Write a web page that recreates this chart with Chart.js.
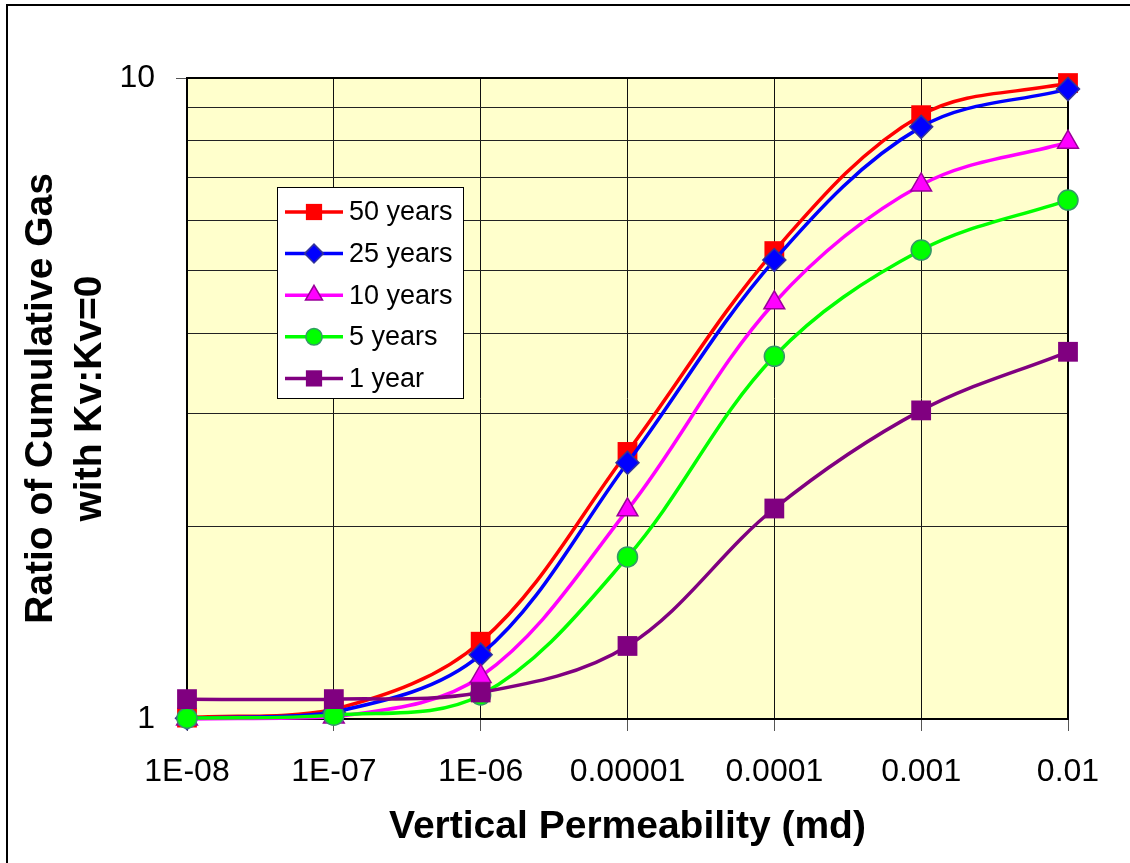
<!DOCTYPE html>
<html>
<head>
<meta charset="utf-8">
<script src="https://cdn.jsdelivr.net/npm/chart.js@4.4.0/dist/chart.umd.min.js"></script>
<style>
    html, body { margin: 0; padding: 0; background: #fff; overflow: hidden; }
    #wrap { position: relative; width: 1130px; height: 863px; }
    #frame { position: absolute; left: 6px; top: 4px; width: 1200px; height: 1000px;
             border-left: 2px solid #000; border-top: 2px solid #000; pointer-events: none; }
</style>
</head>
<body>
<div id="wrap">
    <canvas id="gasChart" width="1130" height="863"></canvas>
    <div id="frame"></div>
</div>
<script>
// vertical permeability (md) and the tick labels shown under the axis
const permeability = [1e-8, 1e-7, 1e-6, 1e-5, 1e-4, 1e-3, 1e-2];
const permLabels = ['1E-08', '1E-07', '1E-06', '0.00001', '0.0001', '0.001', '0.01'];
const ratioTicks = [1, 2, 3, 4, 5, 6, 7, 8, 9, 10];

// ratio of cumulative gas with Kv : Kv=0
const years50 = [1.005, 1.035, 1.32, 2.61, 5.37, 8.75, 9.82];
const years25 = [1.003, 1.025, 1.26, 2.51, 5.20, 8.39, 9.61];
const years10 = [1.0, 1.007, 1.165, 2.12, 4.46, 6.81, 7.94];
const years5 = [1.003, 1.014, 1.09, 1.79, 3.68, 5.39, 6.45];
const years1 = [1.074, 1.074, 1.10, 1.30, 2.13, 3.03, 3.74];

const FONT = 'Arial, "Liberation Sans", sans-serif';

function toPoints(values) {
    return permeability.map((x, i) => ({ x: x, y: values[i] }));
}

function makeSeries(label, values, color, style, radius, border, order) {
    return {
        label: label,
        data: toPoints(values),
        borderColor: color,
        backgroundColor: color,
        borderWidth: 3.5,
        tension: 0.35,
        pointStyle: style,
        pointRadius: radius,
        pointBackgroundColor: color,
        pointBorderColor: border,
        pointBorderWidth: border === color ? 0 : 1.5,
        clip: false,
        order: order
    };
}

const datasets = [
    makeSeries('50 years', years50, '#FF0000', 'rect', 14, '#FF0000', 5),
    makeSeries('25 years', years25, '#0000FF', 'rectRot', 11.5, '#333399', 4),
    makeSeries('10 years', years10, '#FF00FF', 'triangle', 12, '#990099', 3),
    makeSeries('5 years', years5, '#00FF00', 'circle', 10, '#339966', 2),
    makeSeries('1 year', years1, '#800080', 'rect', 14, '#800080', 1)
];

// pale yellow plot area + black frame round it
const plotArea = {
    id: 'plotArea',
    beforeDraw(chart) {
        const { ctx, chartArea: a } = chart;
        ctx.save();
        ctx.fillStyle = '#FFFFCC';
        ctx.fillRect(a.left, a.top, a.right - a.left, a.bottom - a.top);
        ctx.restore();
    },
    beforeDatasetsDraw(chart) {
        const { ctx, chartArea: a } = chart;
        ctx.save();
        ctx.strokeStyle = '#000';
        ctx.lineWidth = 2;
        ctx.strokeRect(a.left, a.top, a.right - a.left, a.bottom - a.top);
        ctx.restore();
    }
};

// Excel style legend box: line with marker, then the label
const boxLegend = {
    id: 'boxLegend',
    afterDraw(chart) {
        const ctx = chart.ctx;
        const left = 277, top = 187, width = 186, height = 211;
        ctx.save();
        ctx.fillStyle = '#fff';
        ctx.fillRect(left, top, width, height);
        ctx.strokeStyle = '#000';
        ctx.lineWidth = 1;
        ctx.strokeRect(left + 0.5, top + 0.5, width, height);

        ctx.font = '27px ' + FONT;
        ctx.textBaseline = 'middle';
        ctx.textAlign = 'left';
        chart.data.datasets.forEach((ds, i) => {
            const y = 212 + i * 41.6;
            ctx.strokeStyle = ds.borderColor;
            ctx.lineWidth = 3.5;
            ctx.beginPath();
            ctx.moveTo(285, y);
            ctx.lineTo(343, y);
            ctx.stroke();

            ctx.fillStyle = ds.pointBackgroundColor;
            ctx.strokeStyle = ds.pointBorderColor;
            ctx.lineWidth = ds.pointBorderWidth;
            Chart.helpers.drawPoint(ctx, {
                pointStyle: ds.pointStyle,
                rotation: 0,
                radius: ds.pointRadius * 0.82,
                borderWidth: ds.pointBorderWidth
            }, 314, y);

            ctx.fillStyle = '#000';
            ctx.fillText(ds.label, 349, y + 1);
        });
        ctx.restore();
    }
};

new Chart(document.getElementById('gasChart'), {
    type: 'line',
    data: { datasets: datasets },
    options: {
        responsive: false,
        animation: false,
        devicePixelRatio: 1,
        events: [],
        layout: { padding: { top: 78, right: 62, left: 0, bottom: 0 } },
        plugins: {
            legend: { display: false },
            tooltip: { enabled: false }
        },
        scales: {
            x: {
                type: 'logarithmic',
                min: 1e-8,
                max: 1e-2,
                afterBuildTicks: scale => {
                    scale.ticks = permeability.map(v => ({ value: v }));
                },
                afterFit: scale => { scale.height = 144; },
                border: { display: false },
                grid: {
                    color: '#111',
                    lineWidth: 1,
                    tickLength: 12,
                    tickColor: '#555'
                },
                ticks: {
                    color: '#000',
                    padding: 22,
                    maxRotation: 0,
                    autoSkip: false,
                    font: { family: FONT, size: 32 },
                    callback: (value) => {
                        const i = permeability.findIndex(p => Math.abs(Math.log10(p) - Math.log10(value)) < 1e-6);
                        return i >= 0 ? permLabels[i] : '';
                    }
                },
                title: {
                    display: true,
                    text: 'Vertical Permeability (md)',
                    color: '#000',
                    font: { family: FONT, size: 39, weight: 'bold', lineHeight: 1.2 },
                    padding: { top: 0, bottom: 12 }
                }
            },
            y: {
                type: 'logarithmic',
                min: 1,
                max: 10,
                afterBuildTicks: scale => {
                    scale.ticks = ratioTicks.map(v => ({ value: v }));
                },
                afterFit: scale => { scale.width = 187; },
                border: { display: false },
                grid: {
                    color: '#222',
                    lineWidth: 1,
                    tickLength: 11,
                    tickColor: ctx => (ctx.tick && (ctx.tick.value === 1 || ctx.tick.value === 10)) ? '#555' : 'rgba(0,0,0,0)'
                },
                ticks: {
                    color: '#000',
                    padding: 21,
                    autoSkip: false,
                    font: { family: FONT, size: 32 },
                    callback: value => (value === 1 || value === 10) ? String(value) : ''
                },
                title: {
                    display: true,
                    text: ['Ratio of Cumulative Gas', 'with Kv:Kv=0'],
                    color: '#000',
                    font: { family: FONT, size: 39, weight: 'bold', lineHeight: 1.26 },
                    padding: { top: 17, bottom: 0 }
                }
            }
        }
    },
    plugins: [plotArea, boxLegend]
});
</script>
</body>
</html>
